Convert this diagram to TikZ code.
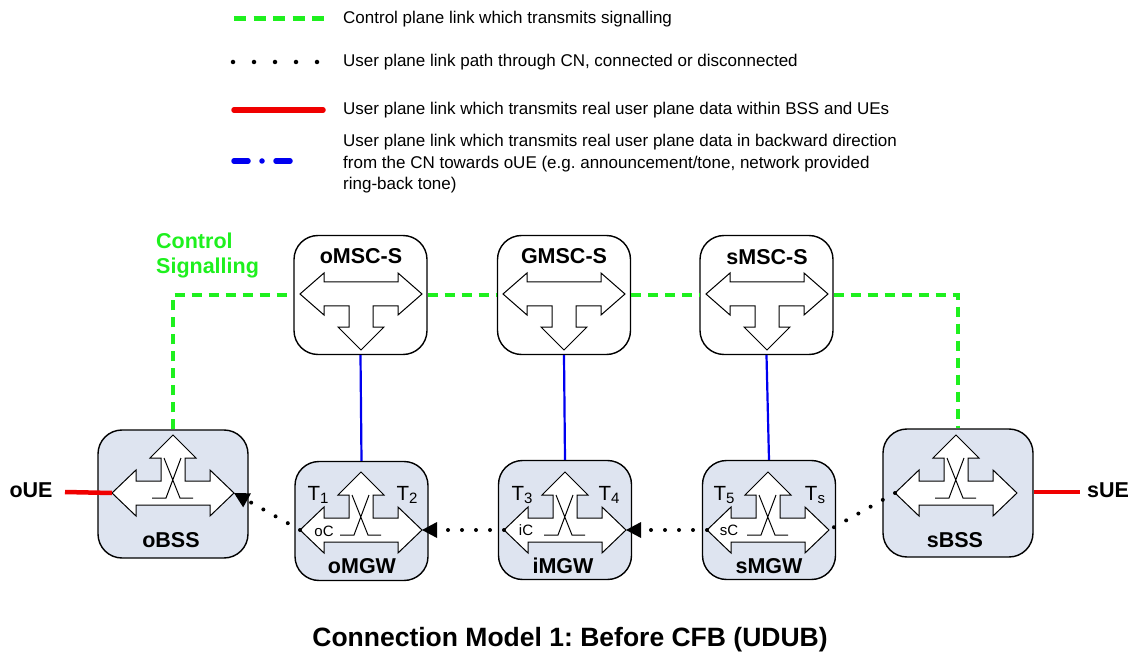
\documentclass[tikz,border=0pt]{standalone}
\usepackage{fontspec}
\setmainfont{Liberation Sans}
\usetikzlibrary{arrows.meta}
\definecolor{sigGreen}{RGB}{30,240,30}
\definecolor{planeRed}{RGB}{240,0,0}
\definecolor{planeBlue}{RGB}{0,0,240}
\definecolor{boxFill}{RGB}{222,228,240}
\frenchspacing
\tikzset{
  swsym/.pic={
    \draw[symline] (-61,0) -- (-37,-23) -- (-37,-12) -- (-12,-12) -- (-12,-35)
      -- (-23,-35) -- (0,-58) -- (23,-35) -- (12,-35) -- (12,-12) -- (37,-12)
      -- (37,-23) -- (61,0) -- (37,23) -- (37,12) -- (-37,12) -- (-37,23) -- cycle;
    \draw[crossline] (-9,-35) -- (7,5) -- (20,5) (8,-35) -- (-7,5) -- (-21,5);
    \coordinate (-l) at (-61,0);
    \coordinate (-r) at (61,0);
  },
  mscsym/.pic={
    \draw[symline] (-61,0) -- (-37,-21) -- (-37,-12) -- (37,-12) -- (37,-21)
      -- (61,0) -- (37,21) -- (37,12) -- (12,12) -- (12,33) -- (23,33)
      -- (0,56) -- (-23,33) -- (-12,33) -- (-12,12) -- (-37,12) -- (-37,21) -- cycle;
  }
}
\begin{document}
\frenchspacing
\begin{tikzpicture}[x=1pt,y=-1pt,
  box/.style={draw=black,line width=1.4pt,rounded corners=24pt,inner sep=0pt},
  mscbox/.style={box,fill=white,minimum width=133pt,minimum height=119pt},
  mgwbox/.style={box,fill=boxFill,minimum width=133pt,minimum height=119pt},
  bssbox/.style={box,fill=boxFill,minimum width=150pt,minimum height=128pt},
  symline/.style={draw=black,fill=white,line width=1pt,line join=miter},
  crossline/.style={draw=black,line width=1pt},
  boxlabel/.style={font=\fontsize{21.5}{25}\selectfont\bfseries,inner sep=0pt},
  tlabel/.style={font=\fontsize{20.5}{24}\selectfont,inner sep=0pt},
  clabel/.style={font=\fontsize{15}{18}\selectfont,inner sep=0pt},
  legtext/.style={font=\fontsize{17}{21.5}\selectfont,anchor=west,align=left,inner sep=0pt},
  sigline/.style={draw=sigGreen,line width=4pt,dash pattern=on 10pt off 7pt},
  dotline/.style={draw=black,line width=4pt,line cap=round,dash pattern=on 0pt off 14pt},
  redline/.style={draw=planeRed,line width=4.5pt},
  blueline/.style={draw=planeBlue,line width=2.2pt},
  tip/.style={-{Triangle[length=15pt,width=16pt,line width=0pt]}}
]
\useasboundingbox (0,0) rectangle (1136,655);

% ---------------- legend ----------------
\coordinate (g1) at (234,19);  \coordinate (g2) at (325,19);
\coordinate (d1) at (233,62);  \coordinate (d2) at (320,62);
\coordinate (r1) at (234,110); \coordinate (r2) at (323,110);
\coordinate (b1) at (234,161); \coordinate (b2) at (292,161);
\draw[sigline,dash pattern=on 12pt off 7.5pt,line width=5pt] (g1) -- (g2);
\draw[draw=black,line width=4.5pt,line cap=round,dash pattern=on 0pt off 21pt] (d1) -- (d2);
\draw[draw=planeRed,line width=5.5pt,line cap=round] (r1) -- (r2);
\draw[draw=planeBlue,line width=5.5pt,line cap=round,dash pattern=on 14pt off 14pt on 0pt off 14pt] (b1) -- (b2);
\node[legtext] (l1) at (343,19) {Control plane link which transmits signalling};
\node[legtext] (l2) at (343,62) {User plane link path through CN, connected or disconnected};
\node[legtext] (l3) at (343,110) {User plane link which transmits real user plane data within BSS and UEs};
\node[legtext] (l4) at (343,164) {User plane link which transmits real user plane data in backward direction\\from the CN towards oUE (e.g. announcement/tone, network provided\\ring-back tone)};

% ---------------- boxes ----------------
\node[mscbox] (omsc) at (360.5,295) {};
\node[mscbox] (gmsc) at (564,295) {};
\node[mscbox] (smsc) at (766.5,295) {};
\node[mgwbox] (omgw) at (361.5,521) {};
\node[mgwbox] (imgw) at (565,520) {};
\node[mgwbox] (smgw) at (769,520) {};
\node[bssbox] (obss) at (173,494) {};
\node[bssbox] (sbss) at (958,493) {};

% ---------------- connectors: signalling & blue ----------------
\draw[sigline] (obss.north) |- (omsc.west);
\draw[sigline] (omsc.east) -- (gmsc.west);
\draw[sigline] (gmsc.east) -- (smsc.west);
\draw[sigline] (smsc.east) -| (sbss.north);
\draw[blueline] (omsc.south) -- (omgw.north);
\draw[blueline] (gmsc.south) -- (imgw.north);
\draw[blueline] (smsc.south) -- (smgw.north);

% ---------------- symbols ----------------
\pic (omscsym) at (361,294) {mscsym};
\pic (gmscsym) at (564,294) {mscsym};
\pic (smscsym) at (767,294) {mscsym};
\pic (obsssym) at (173,493) {swsym};
\pic (sbsssym) at (956,493) {swsym};
\pic (omgwsym) at (361,530) {swsym};
\pic (imgwsym) at (565,530) {swsym};
\pic (smgwsym) at (768,530) {swsym};

% ---------------- labels ----------------
\node[boxlabel] (omscl) at (361,256) {oMSC-S};
\node[boxlabel] (gmscl) at (564,256) {GMSC-S};
\node[boxlabel] (smscl) at (767,257) {sMSC-S};
\node[boxlabel] (obssl) at (171,540) {oBSS};
\node[boxlabel] (sbssl) at (955,540) {sBSS};
\node[boxlabel] (omgwl) at (362,566) {oMGW};
\node[boxlabel] (imgwl) at (563,566) {iMGW};
\node[boxlabel] (smgwl) at (769,566) {sMGW};
\node[tlabel] (t1) at (318,495) {T\raisebox{-0.35ex}{\fontsize{15}{15}\selectfont 1}};
\node[tlabel] (t2) at (407,495) {T\raisebox{-0.35ex}{\fontsize{15}{15}\selectfont 2}};
\node[tlabel] (t3) at (522,495) {T\raisebox{-0.35ex}{\fontsize{15}{15}\selectfont 3}};
\node[tlabel] (t4) at (609,495) {T\raisebox{-0.35ex}{\fontsize{15}{15}\selectfont 4}};
\node[tlabel] (t5) at (724,495) {T\raisebox{-0.35ex}{\fontsize{15}{15}\selectfont 5}};
\node[tlabel] (ts) at (815,495) {T\raisebox{-0.35ex}{\fontsize{15}{15}\selectfont s}};
\node[clabel] (oc) at (324,531) {oC};
\node[clabel] (ic) at (526,530) {iC};
\node[clabel] (sc) at (729,530) {sC};
\node[boxlabel,text=sigGreen,anchor=north west,align=left,font=\fontsize{21.5}{25}\selectfont\bfseries] (ctrl) at (156,233) {Control\\Signalling};
\node[boxlabel] (oue) at (31,490) {oUE};
\node[boxlabel] (sue) at (1108,490) {sUE};
\coordinate (ouered) at (65,492);
\coordinate (suered) at (1080,492);

% ---------------- user plane connectors ----------------
\draw[redline] (ouered) -- (obsssym-l);
\draw[redline] (sbss.east |- suered) -- (suered);
\draw[dotline,tip] (omgwsym-l) -- (obsssym-r);
\draw[dotline,tip] (imgwsym-l) -- (omgwsym-r);
\draw[dotline,tip] (smgwsym-l) -- (imgwsym-r);
\draw[dotline] (sbsssym-l) -- (smgwsym-r);

% ---------------- title ----------------
\node[font=\fontsize{26.5}{30}\selectfont\bfseries,inner sep=0pt] (title) at (570,640) {Connection Model 1: Before CFB (UDUB)};
\end{tikzpicture}
\end{document}
